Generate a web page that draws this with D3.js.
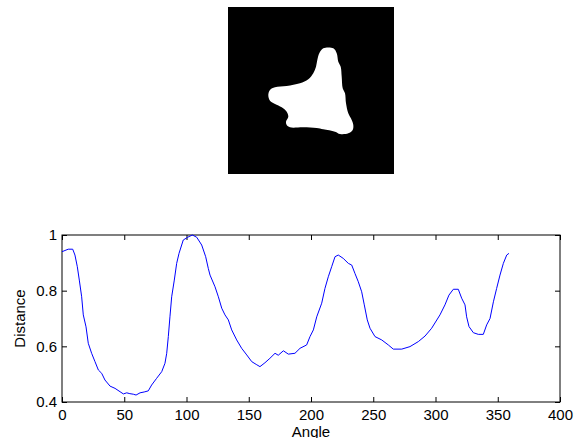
<!DOCTYPE html>
<html>
<head>
<meta charset="utf-8">
<script src="https://cdn.jsdelivr.net/npm/d3@7"></script>
<style>
  html, body { margin: 0; padding: 0; background: #fff; }
  svg { display: block; }
  text { font-family: "Liberation Sans", Arial, Helvetica, sans-serif; }
</style>
</head>
<body>
<svg id="chart" width="574" height="438"></svg>
<script>
// ---- Data ----
const angles = [0, 5, 8.6, 10.4, 12.3, 13.9, 15.8, 17.1, 19.3, 21.1, 23.8, 26.5, 29.2, 31.9, 34.5, 38.6, 42.6, 46.6, 49.3, 52, 54.5, 57.3, 59.5, 62.7, 66, 69.3, 72, 76, 80.1, 82.7, 84.1, 85.4, 86.7, 88.1, 90.2, 92.1, 94, 97.4, 101, 104.7, 108.2, 112.2, 115.4, 117.5, 118.9, 122.9, 125.6, 128.3, 130.9, 133.6, 136.3, 140.3, 144.3, 148.4, 152.4, 156, 159, 163, 167, 171.1, 173.7, 177.8, 181.8, 187.1, 191.2, 196.5, 199.2, 201.9, 204.6, 208.6, 211.2, 213.9, 216.6, 219.3, 221.9, 225.9, 230, 232.7, 235.3, 238, 240.7, 242.8, 245.2, 247.4, 251.4, 256.8, 262.1, 266.1, 272.9, 279.5, 286.2, 291.6, 296.9, 303.6, 307.6, 310.8, 314.3, 318.3, 321, 323.7, 325, 326.9, 330.4, 334.4, 338.4, 341.1, 343.8, 346.5, 349.1, 351.8, 354.5, 357.2, 359];
const distances = [0.94, 0.949, 0.949, 0.928, 0.886, 0.838, 0.778, 0.713, 0.67, 0.611, 0.575, 0.545, 0.515, 0.503, 0.479, 0.457, 0.449, 0.437, 0.429, 0.433, 0.43, 0.428, 0.425, 0.433, 0.436, 0.44, 0.461, 0.485, 0.509, 0.539, 0.575, 0.635, 0.706, 0.778, 0.838, 0.898, 0.934, 0.982, 0.992, 1.0, 0.992, 0.964, 0.922, 0.88, 0.856, 0.814, 0.778, 0.737, 0.713, 0.695, 0.659, 0.623, 0.593, 0.569, 0.545, 0.535, 0.527, 0.541, 0.557, 0.575, 0.568, 0.584, 0.572, 0.575, 0.593, 0.605, 0.635, 0.659, 0.706, 0.755, 0.808, 0.85, 0.886, 0.922, 0.928, 0.916, 0.898, 0.892, 0.862, 0.832, 0.796, 0.749, 0.695, 0.665, 0.635, 0.623, 0.605, 0.59, 0.59, 0.599, 0.617, 0.637, 0.665, 0.713, 0.749, 0.784, 0.805, 0.805, 0.773, 0.749, 0.706, 0.671, 0.649, 0.643, 0.643, 0.677, 0.7, 0.76, 0.808, 0.856, 0.898, 0.928, 0.934];
const xTicks = [0, 50, 100, 150, 200, 250, 300, 350, 400];
const yTicks = [0.4, 0.6, 0.8, 1];
const yTickLabels = ["0.4", "0.6", "0.8", "1"];
const xLabel = "Angle";
const yLabel = "Distance";
// Binary shape outline, in image pixel units (image is 166 x 167 px)
const shapeX = [95.3, 105.3, 108.7, 110.3, 112.7, 113.7, 114.7, 117, 118, 120.3, 123.7, 125.3, 124.7, 120.3, 112, 107, 95.3, 88.7, 75.3, 62, 58.7, 58, 60.3, 58.7, 53.7, 47, 42, 40.3, 42, 47, 58.7, 72, 80.3, 85.3, 88, 89.3, 91.3];
const shapeY = [41.3, 41.3, 46.3, 54.7, 59.7, 69.7, 81.3, 86.3, 96.3, 106.3, 113, 118, 123, 126.3, 127, 124.7, 122.3, 121, 120.3, 120.3, 118, 114.7, 109.7, 104.7, 100.3, 97, 93.7, 88, 83, 80.3, 79, 76.3, 72.3, 66.3, 59.7, 53, 46.3];
const imgSize = [166, 167];

// ---- Layout ----
const svg = d3.select("#chart");
const W = 574, H = 438;
const plot = { left: 62, right: 560, top: 235, bottom: 402 };
const img = { left: 228, top: 7, width: 166, height: 167 };

// ---- Image panel ----
const ix = d3.scaleLinear().domain([0, imgSize[0]]).range([img.left, img.left + img.width]);
const iy = d3.scaleLinear().domain([0, imgSize[1]]).range([img.top, img.top + img.height]);
svg.append("rect")
  .attr("x", img.left).attr("y", img.top)
  .attr("width", img.width).attr("height", img.height)
  .attr("fill", "#000");
const shapePts = shapeX.map((d, i) => [d, shapeY[i]]);
svg.append("path")
  .attr("d", d3.line().x(d => ix(d[0])).y(d => iy(d[1])).curve(d3.curveCatmullRomClosed.alpha(0.5))(shapePts))
  .attr("fill", "#fff");

// ---- Plot ----
const x = d3.scaleLinear().domain([0, 400]).range([plot.left, plot.right]);
const y = d3.scaleLinear().domain([0.4, 1]).range([plot.bottom, plot.top]);

function styleAxis(g) {
  g.select(".domain").remove();
  g.selectAll(".tick line").attr("stroke", "#000");
  g.selectAll(".tick text").attr("fill", "#000").style("font-size", "15px")
    .style("font-family", '"Liberation Sans", Arial, Helvetica, sans-serif');
}

svg.append("g").attr("transform", `translate(0,${plot.bottom})`)
  .call(d3.axisBottom(x).tickValues(xTicks).tickSize(-5).tickPadding(7).tickFormat(d3.format("d")))
  .call(styleAxis);
svg.append("g").attr("transform", `translate(0,${plot.top})`)
  .call(d3.axisTop(x).tickValues(xTicks).tickSize(-5).tickFormat(""))
  .call(styleAxis);
svg.append("g").attr("transform", `translate(${plot.left},0)`)
  .call(d3.axisLeft(y).tickValues(yTicks).tickSize(-5).tickPadding(5).tickFormat((d, i) => yTickLabels[i]))
  .call(styleAxis);
svg.append("g").attr("transform", `translate(${plot.right},0)`)
  .call(d3.axisRight(y).tickValues(yTicks).tickSize(-5).tickFormat(""))
  .call(styleAxis);

svg.append("rect")
  .attr("x", plot.left).attr("y", plot.top)
  .attr("width", plot.right - plot.left).attr("height", plot.bottom - plot.top)
  .attr("fill", "none").attr("stroke", "#000").attr("stroke-width", 1);

const pts = angles.map((a, i) => [a, distances[i]]);
svg.append("path")
  .attr("d", d3.line().x(d => x(d[0])).y(d => y(d[1]))(pts))
  .attr("fill", "none").attr("stroke", "#0000ff").attr("stroke-width", 1);

svg.append("text")
  .attr("x", (plot.left + plot.right) / 2).attr("y", 437)
  .attr("text-anchor", "middle").style("font-size", "15px").attr("fill", "#000")
  .text(xLabel);
svg.append("text")
  .attr("transform", `translate(25,${(plot.top + plot.bottom) / 2}) rotate(-90)`)
  .attr("text-anchor", "middle").style("font-size", "15px").attr("fill", "#000")
  .text(yLabel);
</script>
</body>
</html>
